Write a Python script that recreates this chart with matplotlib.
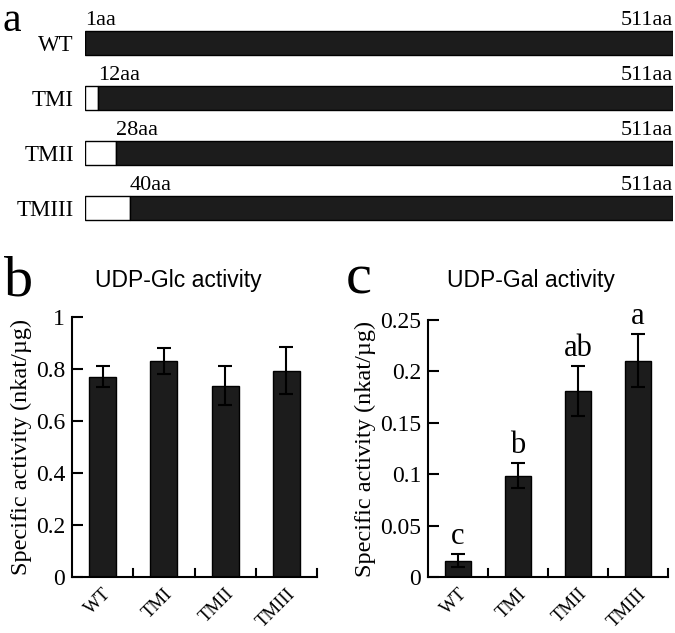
import matplotlib
matplotlib.use("Agg")
from matplotlib import pyplot as plt
import numpy as np

# panel a: constructs
constructs = ["WT", "TMI", "TMII", "TMIII"]
start_aa = [1, 12, 28, 40]
end_aa = 511

# panel b / c: activities
glc_mean = [0.77, 0.832, 0.735, 0.794]
glc_err = [0.04, 0.05, 0.075, 0.09]
gal_mean = [0.0159, 0.0985, 0.181, 0.2104]
gal_err = [0.0065, 0.012, 0.024, 0.026]
gal_letters = ["c", "b", "ab", "a"]

serif = "Liberation Serif"
sans = "Liberation Sans"
bar_color = "#1c1c1c"

W, H = 675, 633
fig = plt.figure(figsize=(W / 100, H / 100), dpi=100)


def px_axes(left, top, right, bottom):
    return fig.add_axes([left / W, 1 - bottom / H, (right - left) / W, (bottom - top) / H])


# ---- panel a ----
ax_a = px_axes(85, 15.5, 673, 235.5)
ypos = np.arange(len(constructs))
for y, s in zip(ypos, start_aa):
    if s > 1:
        ax_a.barh(y, s - 1, left=1, height=0.44, color="white", edgecolor="black", lw=1)
    ax_a.barh(y, end_aa - s, left=s, height=0.44, color=bar_color, edgecolor="black", lw=1)
    ax_a.text(s, y - 0.24, f"{s}aa", ha="left", va="bottom", family=serif, fontsize=16)
    ax_a.text(end_aa, y - 0.24, f"{end_aa}aa", ha="right", va="bottom", family=serif, fontsize=16)
ax_a.set_yticks(ypos)
ax_a.set_yticklabels(constructs, family=serif, fontsize=16.5)
ax_a.tick_params(axis="y", length=0, pad=8)
ax_a.set_xlim(1, end_aa)
ax_a.set_ylim(3.5, -0.5)
ax_a.set_xticks([])
for sp in ax_a.spines.values():
    sp.set_visible(False)


def activity_panel(ax, means, errs, ymax, step, fmt):
    x = np.arange(len(means))
    ax.bar(x, means, width=0.44, color=bar_color, edgecolor="black", lw=1,
           yerr=errs, error_kw=dict(ecolor="black", elinewidth=1.5, capsize=5, capthick=1.5))
    ax.set_xlim(-0.5, len(means) - 0.5)
    ax.set_ylim(0, ymax)
    ticks = np.arange(0, ymax + step / 2, step)
    ax.set_yticks(ticks)
    ax.set_yticklabels([fmt(t) for t in ticks], family=serif, fontsize=17)
    ax.tick_params(axis="y", direction="in", length=8, width=1.5, pad=5)
    ax.set_xticks(x)
    ax.set_xticklabels(constructs, rotation=45, ha="right", rotation_mode="anchor",
                       family=serif, fontsize=13.5)
    ax.tick_params(axis="x", length=0, pad=6)
    # boundary ticks pointing up
    for b in np.arange(0.5, len(means), 1.0):
        ax.plot([b, b], [0, ymax * 0.03], color="black", lw=1.5, clip_on=False)
    ax.spines["top"].set_visible(False)
    ax.spines["right"].set_visible(False)
    ax.spines["left"].set_linewidth(1.5)
    ax.spines["bottom"].set_linewidth(1.5)
    ax.set_ylabel("Specific activity (nkat/\u00b5g)", family=serif, fontsize=17.5, labelpad=3)


def fmt_g(t):
    s = f"{t:.2f}".rstrip("0").rstrip(".")
    return s if s else "0"


ax_b = px_axes(72, 317, 317, 577)
activity_panel(ax_b, glc_mean, glc_err, 1.0, 0.2, fmt_g)

ax_c = px_axes(428, 320, 668, 577)
activity_panel(ax_c, gal_mean, gal_err, 0.25, 0.05, fmt_g)
for i, (m, e, lab) in enumerate(zip(gal_mean, gal_err, gal_letters)):
    ax_c.text(i, m + e + 0.003, lab, ha="center", va="bottom", family=serif, fontsize=22)

# titles and panel letters
fig.text(178 / W, 1 - 280 / H, "UDP-Glc activity", ha="center", va="center", family=sans, fontsize=16.5)
fig.text(531 / W, 1 - 280 / H, "UDP-Gal activity", ha="center", va="center", family=sans, fontsize=16.5)
fig.text(3 / W, 1 - 31 / H, "a", ha="left", va="baseline", family=serif, fontsize=30)
fig.text(4 / W, 1 - 295 / H, "b", ha="left", va="baseline", family=serif, fontsize=42)
fig.text(346 / W, 1 - 293 / H, "c", ha="left", va="baseline", family=serif, fontsize=42)

fig.savefig("out.png", dpi=100)
